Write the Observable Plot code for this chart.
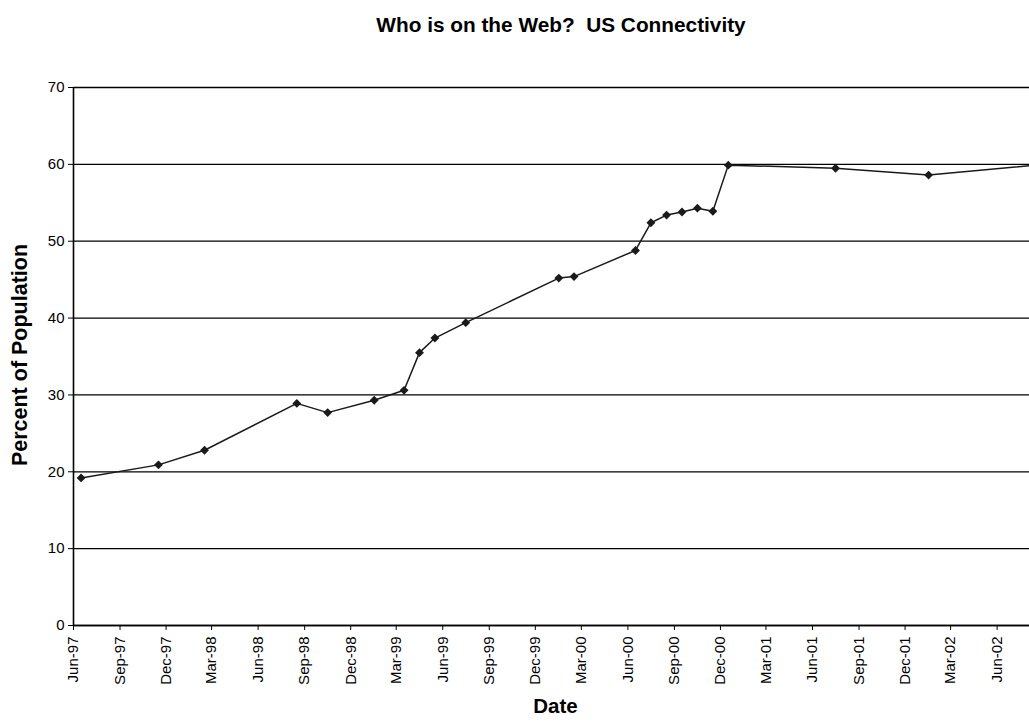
<!DOCTYPE html>
<html>
<head>
<meta charset="utf-8">
<script src="https://cdn.jsdelivr.net/npm/d3@7"></script>
<script src="https://cdn.jsdelivr.net/npm/@observablehq/plot@0.6"></script>
<style>
  body { margin: 0; background: #fff; font-family: "Liberation Sans", Arial, Helvetica, sans-serif; }
  #wrap { position: relative; width: 1029px; height: 722px; overflow: hidden; background: #fff; }
  #title { position: absolute; left: 561px; top: 15px; transform: translateX(-50%); white-space: pre;
           font-weight: bold; font-size: 20.8px; line-height: 1; color: #000; }
  #chart { position: absolute; left: 0; top: 50px; }
</style>
</head>
<body>
<div id="wrap">
  <div id="title">Who is on the Web?  US Connectivity</div>
  <div id="chart"></div>
</div>
<script>
// Survey months and the share of the US population online
const months = [
  "1997-06", "1997-11", "1998-02", "1998-08", "1998-10", "1999-01", "1999-03",
  "1999-04", "1999-05", "1999-07", "2000-01", "2000-02", "2000-06", "2000-07",
  "2000-08", "2000-09", "2000-10", "2000-11", "2000-12", "2001-07", "2002-01",
  "2002-08"
];
const percent = [
  19.2, 20.9, 22.8, 28.9, 27.7, 29.3, 30.6,
  35.5, 37.4, 39.4, 45.2, 45.4, 48.8, 52.4,
  53.4, 53.8, 54.3, 53.9, 59.9, 59.5, 58.6,
  59.9
];

// Quarterly date ticks and the percent ticks
const tickLabels = [
  "Jun-97", "Sep-97", "Dec-97", "Mar-98", "Jun-98", "Sep-98", "Dec-98",
  "Mar-99", "Jun-99", "Sep-99", "Dec-99", "Mar-00", "Jun-00", "Sep-00",
  "Dec-00", "Mar-01", "Jun-01", "Sep-01", "Dec-01", "Mar-02", "Jun-02"
];
const yTicks = [0, 10, 20, 30, 40, 50, 60, 70];

const parseMonth = d3.utcParse("%Y-%m");
const parseTick = d3.utcParse("%b-%y");

// each survey sits in the middle of its month
const data = months.map((m, i) => {
  const start = parseMonth(m);
  const end = d3.utcMonth.offset(start, 1);
  return { date: new Date((+start + +end) / 2), value: percent[i] };
});

const xTicks = tickLabels.map(parseTick);
const xStart = xTicks[0];
const xEnd = new Date(Date.UTC(2002, 7, 4));

const chart = Plot.plot({
  width: 1029,
  height: 672,
  marginLeft: 73,
  marginRight: 0,
  marginTop: 37,
  marginBottom: 97,
  style: {
    fontFamily: "'Liberation Sans', Arial, Helvetica, sans-serif",
    fontSize: "15px",
    color: "#000",
    background: "#fff",
    overflow: "hidden"
  },
  x: { type: "utc", domain: [xStart, xEnd] },
  y: { domain: [0, 70] },
  marks: [
    Plot.gridY(yTicks, { stroke: "#000", strokeOpacity: 1, strokeWidth: 1.3 }),
    Plot.axisY(yTicks, { tickSize: 5, tickPadding: 4, fontSize: 15, label: null }),
    Plot.axisX(xTicks, {
      tickSize: 5,
      tickPadding: 6,
      tickRotate: -90,
      fontSize: 15,
      label: null,
      tickFormat: (d, i) => tickLabels[i]
    }),
    Plot.ruleX([xStart], { stroke: "#000", strokeWidth: 1.6 }),
    Plot.ruleY([0], { stroke: "#000", strokeWidth: 1.6 }),
    Plot.line(data, { x: "date", y: "value", stroke: "#1a1a1a", strokeWidth: 1.5, clip: true }),
    Plot.dot(data, { x: "date", y: "value", symbol: "diamond2", r: 4, fill: "#1a1a1a", stroke: "none", clip: true }),
    Plot.text(["Date"], { frameAnchor: "bottom", dx: 4, dy: 87, fontSize: 20.5, fontWeight: "bold", fill: "#000" }),
    Plot.text(["Percent of Population"], {
      frameAnchor: "left", textAnchor: "middle", lineAnchor: "middle", rotate: -90, dx: -53, dy: -1.5,
      fontSize: 21.5, fontWeight: "bold", fill: "#000"
    })
  ]
});

document.getElementById("chart").appendChild(chart);
</script>
</body>
</html>
